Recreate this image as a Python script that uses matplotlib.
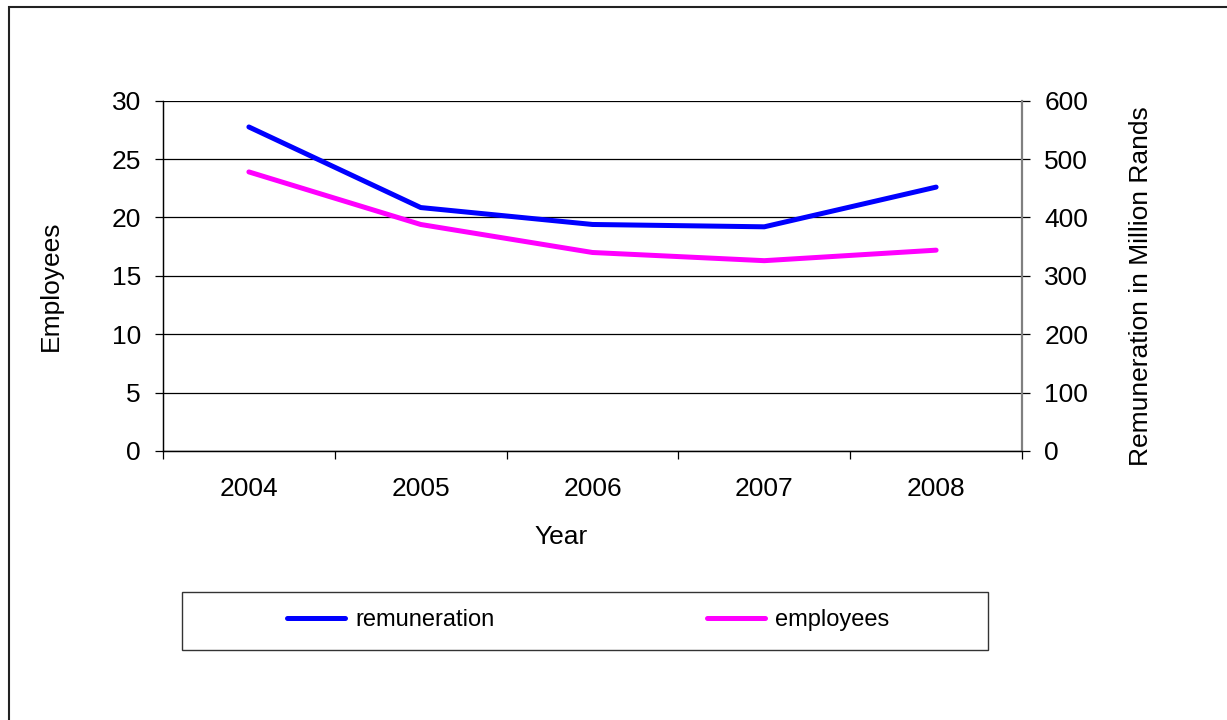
import matplotlib.pyplot as plt
from matplotlib.patches import Rectangle
from matplotlib.lines import Line2D

plt.rcParams['font.family'] = ['Liberation Sans', 'DejaVu Sans']

# datos
years = ['2004', '2005', '2006', '2007', '2008']
employees = [23.9, 19.4, 17.0, 16.3, 17.2]
remuneration = [555, 417, 388, 384, 452]

W, H = 1227, 720
fig = plt.figure(figsize=(W / 100, H / 100), dpi=100)
ax = fig.add_axes([163 / W, 1 - 451 / H, 859 / W, 350.3 / H])
ax2 = ax.twinx()

x = list(range(len(years)))

# lineas
ax.plot(x, employees, color='#FF00FF', lw=3.6, solid_capstyle='round',
        solid_joinstyle='round', zorder=3)
ax2.plot(x, remuneration, color='#0000FF', lw=3.6, solid_capstyle='round',
         solid_joinstyle='round', zorder=3)

# eje izquierdo
ax.set_ylim(0, 30)
ax.set_yticks([0, 5, 10, 15, 20, 25, 30])
ax.yaxis.grid(True, color='black', lw=0.9)
ax.set_axisbelow(True)
ax.tick_params(axis='y', length=5.5, width=0.9, pad=10.5, labelsize=19)

# eje derecho
ax2.set_ylim(0, 600)
ax2.set_yticks([0, 100, 200, 300, 400, 500, 600])
ax2.tick_params(axis='y', length=5.5, width=0.9, pad=10.5, labelsize=19)

# eje x: marcas entre categorias, etiquetas al centro
ax.set_xlim(-0.5, len(years) - 0.5)
ax.set_xticks([i - 0.5 for i in range(len(years) + 1)])
ax.set_xticklabels([])
ax.set_xticks(x, minor=True)
ax.set_xticklabels(years, minor=True)
ax.tick_params(axis='x', which='major', length=5.5, width=0.9)
ax.tick_params(axis='x', which='minor', length=0, pad=19, labelsize=19)

for a in (ax, ax2):
    a.spines['top'].set_visible(False)
    a.spines['left'].set_color('black')
    a.spines['bottom'].set_color('black')
    a.spines['left'].set_linewidth(0.9)
    a.spines['bottom'].set_linewidth(0.9)
ax2.spines['right'].set_color('#808080')
ax2.spines['right'].set_linewidth(1.6)
ax.spines['right'].set_visible(False)

# titulos de ejes
ax.set_ylabel('Employees', fontsize=19)
ax.yaxis.set_label_coords(-0.116, 0.471)
ax2.set_ylabel('Remuneration in Million Rands', fontsize=19)
ax2.yaxis.set_label_coords(1.124, 0.471)
ax.set_xlabel('Year', fontsize=19)
ax.xaxis.set_label_coords(0.463, -0.212)

# leyenda
fig.add_artist(Rectangle((182 / W, 1 - 650 / H), 806 / W, 58 / H,
                         transform=fig.transFigure, fill=False,
                         edgecolor='#333333', lw=1.0))
handles = [Line2D([], [], color='#0000FF', lw=3.6, solid_capstyle='round'),
           Line2D([], [], color='#FF00FF', lw=3.6, solid_capstyle='round')]
fig.legend(handles, ['remuneration', 'employees'], loc='center left',
           bbox_to_anchor=(287 / W, 1 - 620 / H), ncol=2, frameon=False,
           fontsize=17, handlelength=2.46, handletextpad=0.42,
           columnspacing=9.0, borderpad=0, borderaxespad=0)

# borde del grafico
fig.add_artist(Rectangle((8.5 / W, -0.1), 1.2, 1.1 - 6.5 / H,
                         transform=fig.transFigure, fill=False,
                         edgecolor='#222222', lw=1.5))

fig.savefig('out.png', dpi=100, facecolor='white')
